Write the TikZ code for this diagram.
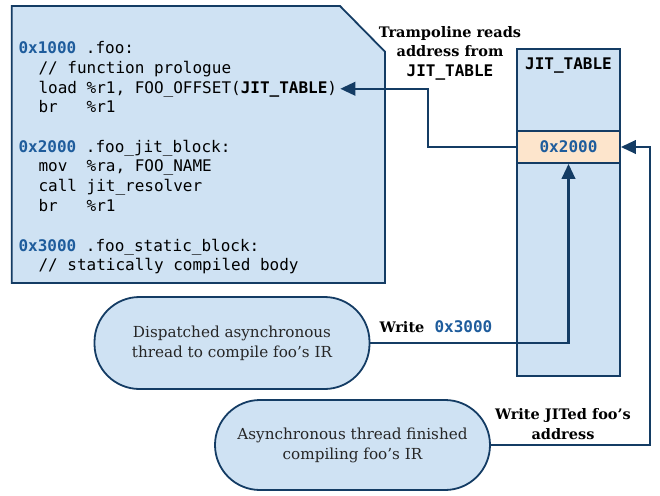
\documentclass[tikz,border=0pt]{standalone}
\usepackage{fontspec}
\setmainfont{DejaVu Serif}
\setmonofont{DejaVu Sans Mono}
\usetikzlibrary{arrows.meta,shapes.misc}
\definecolor{navy}{RGB}{20,60,100}
\definecolor{boxfill}{RGB}{207,226,243}
\definecolor{cellfill}{RGB}{253,229,204}
\definecolor{hexblue}{RGB}{30,92,156}
\tikzset{
  codeline/.style={anchor=base west,inner sep=0pt,font=\fontsize{16}{19.6}\selectfont\ttfamily},
  shapebox/.style={draw=navy,line width=1.8pt,fill=boxfill},
  stadium/.style={shapebox,rounded corners=45pt,minimum width=275pt,align=center,
    font=\fontsize{15.2}{20}\selectfont,text=black!85},
  lbl/.style={inner sep=0pt,align=center,font=\fontsize{14.5}{19.5}\selectfont\bfseries},
  arr/.style={draw=navy,line width=2.3pt,-{Triangle[length=15pt,width=13.5pt]}},
}
\newcommand{\hx}[1]{\textbf{\color{hexblue}#1}}
\begin{document}
\begin{tikzpicture}[x=1pt,y=-1pt]
\useasboundingbox (0,0) rectangle (660,495);
% code box
\draw[shapebox] (11.7,6) -- (340,6) -- (385,51.7) -- (385,283) -- (11.7,283) -- cycle;
\node[codeline] (l1) at (18.3,53.8) {\hx{0x1000} .foo:};
\node[codeline] (l2) at (38.3,73.4) {// function prologue};
\node[codeline] (l3) at (38.3,93.0) {load \%r1, FOO\_OFFSET(\textbf{JIT\_TABLE})};
\node[codeline] (l4) at (38.3,112.6) {br\ \ \ \%r1};
\node[codeline] (l5) at (18.3,152.2) {\hx{0x2000} .foo\_jit\_block:};
\node[codeline] (l6) at (38.3,171.8) {mov\ \ \%ra, FOO\_NAME};
\node[codeline] (l7) at (38.3,191.4) {call jit\_resolver};
\node[codeline] (l8) at (38.3,211.0) {br\ \ \ \%r1};
\node[codeline] (l9) at (18.3,251.0) {\hx{0x3000} .foo\_static\_block:};
\node[codeline] (l10) at (38.3,270.6) {// statically compiled body};
% JIT table
\node[shapebox,minimum width=103pt,minimum height=327pt,inner sep=0pt] (jit) at (568.5,212.5) {};
\node[inner sep=0pt,font=\fontsize{16}{19}\selectfont\ttfamily\bfseries] (jittitle) at (568.5,66) {JIT\_TABLE};
\node[draw=navy,line width=1.8pt,fill=cellfill,minimum width=103pt,minimum height=32pt,inner sep=0pt,
  font=\fontsize{16}{19}\selectfont\ttfamily\bfseries,text=hexblue] (cell) at (568.5,147) {0x2000};
% stadiums
\node[stadium,minimum height=92pt] (e1) at (232,343) {Dispatched asynchronous\\thread to compile foo’s IR};
\node[stadium,minimum height=90pt] (e2) at (352.5,445) {Asynchronous thread finished\\compiling foo’s IR};
% labels
\node[lbl] (tl) at (450,53) {Trampoline reads\\address from\\{\fontsize{16}{19.5}\selectfont\ttfamily JIT\_TABLE}};
\node[lbl] (wl) at (436,327) {Write\ \ {\fontsize{16}{19}\selectfont\ttfamily\color{hexblue}0x3000}};
\node[lbl] (wj) at (563,424) {Write JITed foo’s\\address};
% connectors
\draw[arr] (cell.west) -- ++(-88,0) |- ([xshift=3pt]l3.east);
\draw[arr] (e1.east) -| (cell.south);
\draw[arr] (e2.east) -- ++(159,0) |- (cell.east);
\end{tikzpicture}
\end{document}
